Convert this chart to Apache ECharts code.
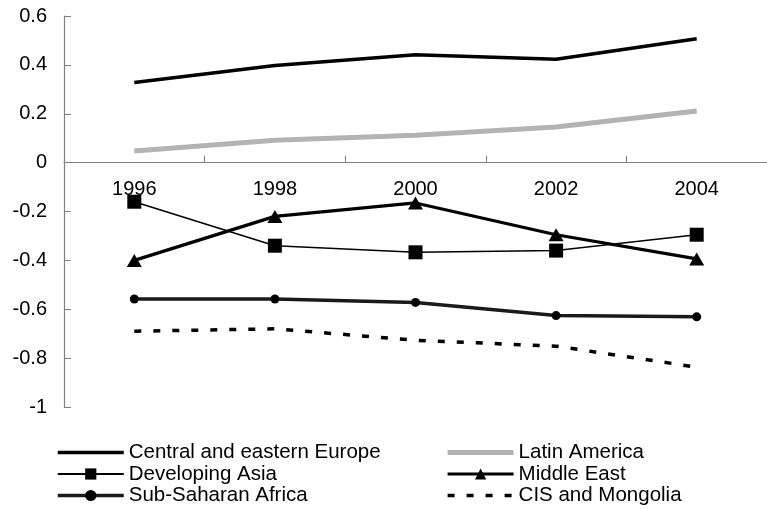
<!DOCTYPE html>
<html>
<head>
<meta charset="utf-8">
<script src="https://cdn.jsdelivr.net/npm/echarts@6/dist/echarts.min.js"></script>
<style>
html,body{margin:0;padding:0;background:#fff;}
#chart{width:767px;height:509px;}
</style>
</head>
<body>
<div id="chart"></div>
<script>
const years = ['1996', '1998', '2000', '2002', '2004'];
const centralEasternEurope = [0.328, 0.397, 0.441, 0.423, 0.507];
const latinAmerica = [0.048, 0.092, 0.112, 0.146, 0.211];
const developingAsia = [-0.160, -0.340, -0.367, -0.360, -0.295];
const middleEast = [-0.400, -0.220, -0.165, -0.295, -0.394];
const subSaharanAfrica = [-0.558, -0.558, -0.572, -0.626, -0.631];
const cisMongolia = [-0.690, -0.680, -0.727, -0.751, -0.837];

const FONT = '"Liberation Sans", Arial, sans-serif';
const chart = echarts.init(document.getElementById('chart'));

const Y_MIN = -1, Y_MAX = 0.6;
const GRID_TOP = 16, GRID_H = 391;
// place the x axis on the zero line via offset
const zeroOffset = -GRID_H * (0 - Y_MIN) / (Y_MAX - Y_MIN);

const solidIcon = 'path://M0,0 M66,14 M0,5.2 L66,5.2 L66,8.8 L0,8.8 Z';
const greyIcon = 'path://M0,0 M66,14 M0,4.6 L66,4.6 L66,9.4 L0,9.4 Z';
const dashIcon = 'path://M0,0 M66,14 M0,5.3 L7,5.3 L7,8.7 L0,8.7 Z M19,5.3 L26,5.3 L26,8.7 L19,8.7 Z M38,5.3 L45,5.3 L45,8.7 L38,8.7 Z M57,5.3 L64,5.3 L64,8.7 L57,8.7 Z';

const lineBase = {type: 'line', smooth: false, animation: false, showSymbol: true};
const legendText = {fontFamily: FONT, fontSize: 20.5, color: '#000', lineHeight: 20};

chart.setOption({
  backgroundColor: '#fff',
  animation: false,
  grid: {left: 64, top: GRID_TOP, width: 718, height: GRID_H, containLabel: false},
  xAxis: {
    type: 'category',
    data: years,
    boundaryGap: true,
    position: 'bottom',
    offset: zeroOffset,
    axisLine: {onZero: false, lineStyle: {color: '#808080', width: 1.2}},
    axisTick: {show: true, inside: true, length: 7, alignWithLabel: false, lineStyle: {color: '#808080'}},
    axisLabel: {color: '#000', fontFamily: FONT, fontSize: 20, margin: 17},
    splitLine: {show: false}
  },
  yAxis: {
    type: 'value',
    min: Y_MIN, max: Y_MAX, interval: 0.2,
    axisLine: {show: true, lineStyle: {color: '#808080', width: 1.2}},
    axisTick: {show: true, inside: true, length: 7, lineStyle: {color: '#808080'}},
    axisLabel: {color: '#000', fontFamily: FONT, fontSize: 20, margin: 17,
      formatter: v => String(Math.round(v * 10) / 10)},
    splitLine: {show: false}
  },
  legend: [
    {
      data: [
        {name: 'Central and eastern Europe', icon: solidIcon},
        {name: 'Developing Asia', lineStyle: {width: 1.8, color: '#000'}},
        {name: 'Sub-Saharan Africa', lineStyle: {width: 3.5, color: '#1a1a1a'}}
      ],
      orient: 'vertical', left: 56, top: 442, padding: 0, itemWidth: 66, itemHeight: 14, itemGap: 0.5,
      textStyle: legendText, selectedMode: false
    },
    {
      data: [
        {name: 'Latin America', icon: greyIcon},
        {name: 'Middle East', lineStyle: {width: 3.2, color: '#000'}},
        {name: 'CIS and Mongolia', icon: dashIcon}
      ],
      orient: 'vertical', left: 446, top: 442, padding: 0, itemWidth: 66, itemHeight: 14, itemGap: 0.5,
      textStyle: legendText, selectedMode: false
    }
  ],
  series: [
    Object.assign({}, lineBase, {
      name: 'Central and eastern Europe', data: centralEasternEurope,
      symbol: 'none', lineStyle: {color: '#000', width: 3.5}, itemStyle: {color: '#000'}, z: 3
    }),
    Object.assign({}, lineBase, {
      name: 'Latin America', data: latinAmerica,
      symbol: 'none', lineStyle: {color: '#b3b3b3', width: 5}, itemStyle: {color: '#b3b3b3'}, z: 2
    }),
    Object.assign({}, lineBase, {
      name: 'Developing Asia', data: developingAsia,
      symbol: 'rect', symbolSize: 14, lineStyle: {color: '#000', width: 1.5}, itemStyle: {color: '#000'}, z: 4
    }),
    Object.assign({}, lineBase, {
      name: 'Middle East', data: middleEast,
      symbol: 'triangle', symbolSize: [15, 13], lineStyle: {color: '#000', width: 3.2}, itemStyle: {color: '#000'}, z: 4
    }),
    Object.assign({}, lineBase, {
      name: 'Sub-Saharan Africa', data: subSaharanAfrica,
      symbol: 'circle', symbolSize: 9, lineStyle: {color: '#1a1a1a', width: 3.5}, itemStyle: {color: '#000'}, z: 3
    }),
    Object.assign({}, lineBase, {
      name: 'CIS and Mongolia', data: cisMongolia,
      symbol: 'none', lineStyle: {color: '#000', width: 3.5, type: [7, 12]}, itemStyle: {color: '#000'}, z: 3
    })
  ]
});
</script>
</body>
</html>
